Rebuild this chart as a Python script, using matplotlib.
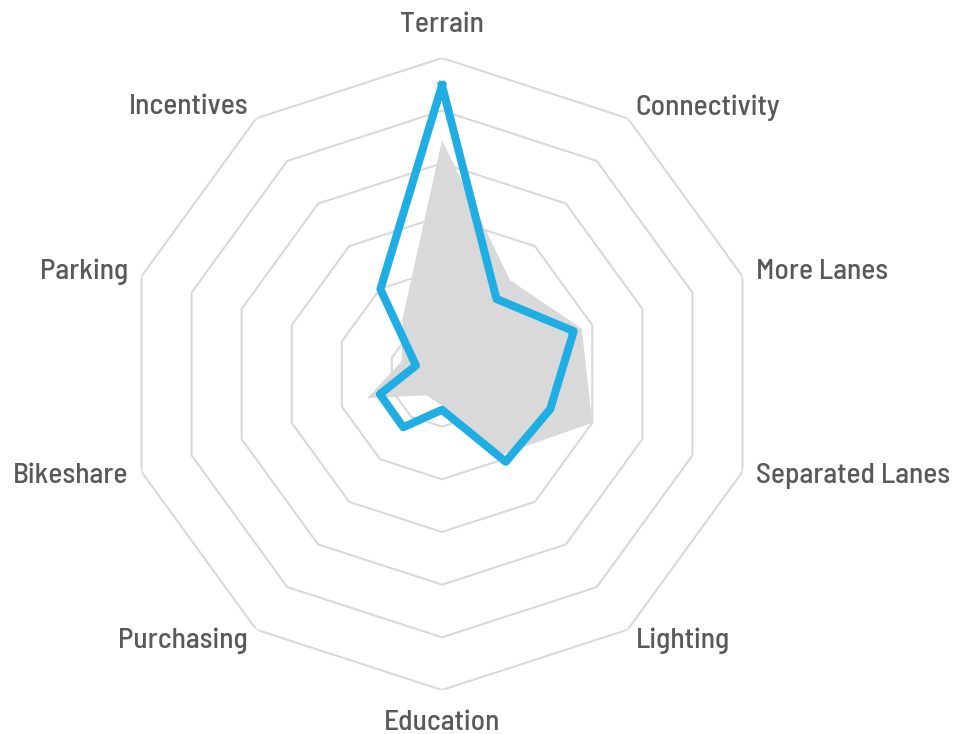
import numpy as np
import matplotlib
matplotlib.use("Agg")
import matplotlib.pyplot as plt

plt.rcParams['font.family'] = ['Barlow Semi Condensed', 'DejaVu Sans']

categories = ["Terrain", "Connectivity", "More Lanes", "Separated Lanes", "Lighting",
              "Education", "Purchasing", "Bikeshare", "Parking", "Incentives"]
# blue outline series and grey filled series
blue_vals = [5.48, 1.76, 2.63, 2.16, 2.06, 0.68, 1.25, 1.24, 0.52, 1.99]
grey_vals = [4.44, 2.20, 2.79, 3.00, 1.90, 0.60, 0.50, 1.49, 0.80, 1.28]
rings = [1, 2, 3, 4, 5, 6]

n = len(categories)
angles = np.linspace(0, 2 * np.pi, n, endpoint=False)
closed = np.append(angles, angles[0])

fig = plt.figure(figsize=(9.6, 7.34), dpi=100)
ax = fig.add_axes([0.13125, 0.05995, 0.65833, 0.86104], projection='polar')
ax.set_theta_zero_location('N')
ax.set_theta_direction(-1)
ax.set_ylim(0, 6)
ax.grid(False)
ax.spines['polar'].set_visible(False)
ax.set_xticks([])
ax.set_yticks([])

grid_col = '#d9d9d9'
for r in rings:
    ax.plot(closed, [r] * (n + 1), color=grid_col, lw=1.5, zorder=1)

ax.fill(closed, grey_vals + grey_vals[:1], color='#d9d9d9', lw=0, zorder=2)
ax.plot(closed, blue_vals + blue_vals[:1], color='#1eaee3', lw=5.8,
        solid_joinstyle='round', zorder=3)

for a, lab in zip(angles, categories):
    deg = np.degrees(a)
    if deg == 0 or deg == 180:
        ha, r = 'center', 6.62
    elif deg < 180:
        ha, r = 'left', 6.26
    else:
        ha, r = 'right', 6.26
    ax.text(a, r, lab, ha=ha, va='center', fontsize=21.2, fontweight=500,
            color='#595959')

fig.savefig('out.png', dpi=100)
